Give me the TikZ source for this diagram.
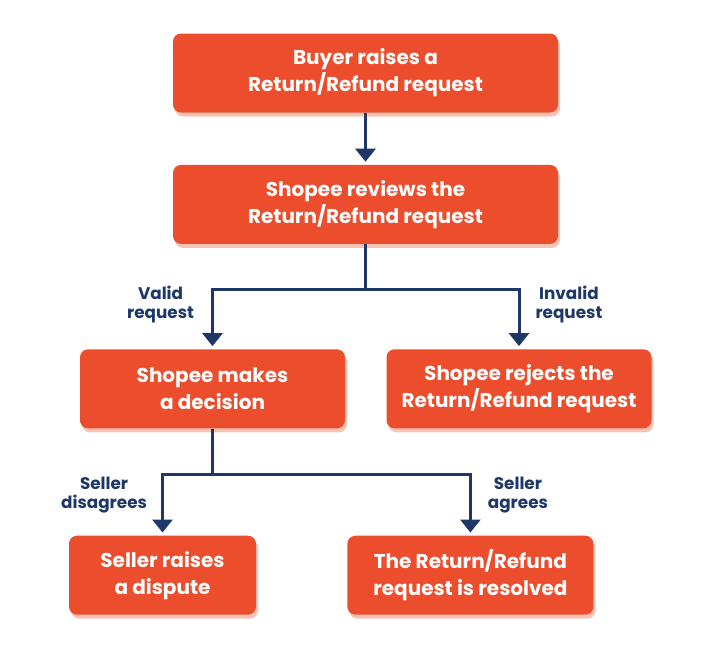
\documentclass[tikz,border=0pt]{standalone}
\usepackage{fontspec}
\setmainfont{Poppins}
\usepackage{xcolor}
\usetikzlibrary{positioning,arrows.meta,shadows}
\definecolor{shopeeorange}{HTML}{EB4D2D}
\definecolor{shadowpink}{HTML}{F8C3B5}
\definecolor{navy}{HTML}{1D3868}

\begin{document}
\begin{tikzpicture}[
    x=1pt, y=-1pt,
    node distance=52pt,
    block/.style={fill=shopeeorange, text=white, rounded corners=8pt, minimum height=79pt, inner sep=0pt, align=center, font=\bfseries\fontsize{20}{27}\selectfont, drop shadow={shadow xshift=2pt, shadow yshift=-4pt, fill=shadowpink, opacity=1}},
    wide/.style={block, minimum width=385pt},
    mid/.style={block, minimum width=265pt},
    lbl/.style={text=navy, inner sep=0pt, align=center, font=\bfseries\fontsize{16.8}{19.5}\selectfont},
    line/.style={line width=3pt, draw=navy},
    arrow/.style={line, -{Triangle[width=20pt,length=13pt]}, shorten >=3pt}
]
    \useasboundingbox (0,0) rectangle (703,657);

    % Request and review (top)
    \node [wide] (buyer) at (365.5,73) {Buyer raises a\\Return/Refund request};
    \node [wide, below=52pt of buyer] (review) {Shopee reviews the\\Return/Refund request};

    % Shopee's outcome
    \node [mid, below=105pt of review, xshift=-153pt] (decide) {Shopee makes\\a decision};
    \node [mid, below=105pt of review, xshift=153.5pt] (reject) {Shopee rejects the\\Return/Refund request};

    % Seller's response (bottom)
    \node [block, minimum width=187pt, below=107pt of decide, xshift=-50pt] (dispute) {Seller raises\\a dispute};
    \node [block, minimum width=246pt, right=91pt of dispute] (resolved) {The Return/Refund\\request is resolved};

    % Connections
    \draw [arrow] (buyer) -- (review);

    \draw [line] (review.south) -- ++(0,45) coordinate (fork1);
    \draw [arrow] (fork1) -| node[lbl, pos=0.63, left=17pt] {Valid\\request} (decide.north);
    \draw [arrow] (fork1) -| node[lbl, pos=0.63, right=15pt] {Invalid\\request} (reject.north);

    \draw [line] (decide.south) -- ++(0,46) coordinate (fork2);
    \draw [arrow] (fork2) -| node[lbl, pos=0.67, left=14pt] {Seller\\disagrees} (dispute.north);
    \draw [arrow] (fork2) -| node[lbl, pos=0.67, right=16pt] {Seller\\agrees} (resolved.north);

\end{tikzpicture}
\end{document}
